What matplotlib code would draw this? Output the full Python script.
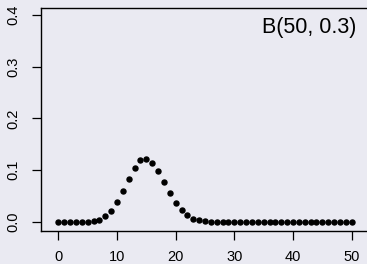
import matplotlib.pyplot as plt

plt.rcParams['font.family'] = ['Liberation Sans', 'DejaVu Sans']

# successes k and probability
k = list(range(0, 51))
prob = [0.0000, 0.0000, 0.0000, 0.0000, 0.0001, 0.0006, 0.0018, 0.0048,
        0.0110, 0.0220, 0.0386, 0.0602, 0.0838, 0.1050, 0.1189, 0.1223,
        0.1147, 0.0983, 0.0772, 0.0558, 0.0370, 0.0227, 0.0128, 0.0067,
        0.0032, 0.0014, 0.0006, 0.0002, 0.0001, 0.0000, 0.0000, 0.0000,
        0.0000, 0.0000, 0.0000, 0.0000, 0.0000, 0.0000, 0.0000, 0.0000,
        0.0000, 0.0000, 0.0000, 0.0000, 0.0000, 0.0000, 0.0000, 0.0000,
        0.0000, 0.0000, 0.0000]
xticks = [0, 10, 20, 30, 40, 50]
yticks = [0.0, 0.1, 0.2, 0.3, 0.4]
label = 'B(50, 0.3)'

bg = '#eaeaf2'
fig = plt.figure(figsize=(3.67, 2.64), dpi=100, facecolor=bg)
ax = fig.add_axes([0.111, 0.126, 0.94, 0.844])
ax.set_facecolor(bg)

ax.plot(k, prob, 'o', color='black', markersize=3.6)

ax.set_xlim(-3.0, 55.8)
ax.set_ylim(-0.0168, 0.4135)
ax.set_xticks(xticks)
ax.set_yticks(yticks)
ax.set_yticklabels(['%.1f' % v for v in yticks], rotation=90, va='center')
ax.tick_params(direction='out', length=6.5, width=0.9, labelsize=10.5,
               colors='black')
ax.tick_params(axis='x', pad=7.5)
ax.tick_params(axis='y', pad=8)
ax.spines['right'].set_visible(False)
for s in ['left', 'top', 'bottom']:
    ax.spines[s].set_linewidth(1.0)

fig.text(356 / 367, 1 - 17 / 264, label, ha='right', va='top', fontsize=15.5)

fig.savefig('out.png', dpi=100, facecolor=bg)
